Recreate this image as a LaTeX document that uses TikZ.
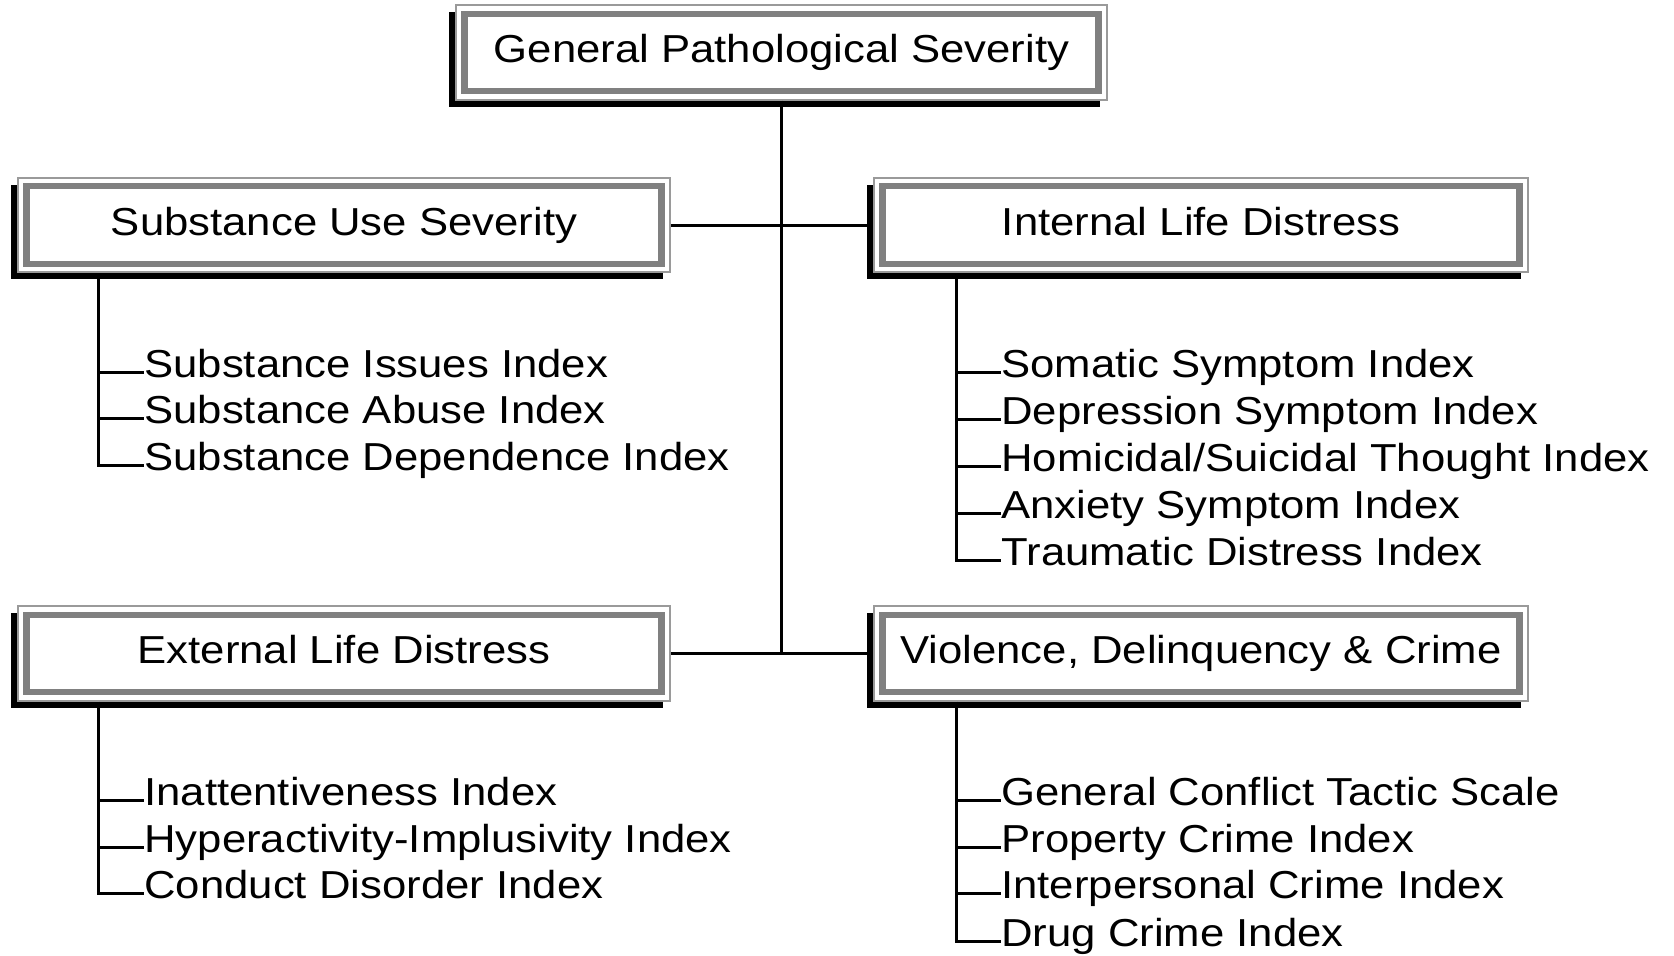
\documentclass[tikz,border=0pt]{standalone}
\usepackage{fontspec}
\setmainfont{Liberation Sans}[FakeStretch=1.12]
\usetikzlibrary{shadows}
\definecolor{outergray}{HTML}{9A9A9A}
\definecolor{bandgray}{HTML}{808080}
\begin{document}
\begin{tikzpicture}[x=0.5pt,y=-0.5pt,
  catbox/.style={draw=outergray, line width=0.8pt, fill=white, inner sep=0pt,
    minimum width=#1*0.5pt, minimum height=47.25pt,
    text height=12pt, text depth=2pt,
    font=\fontsize{19.5pt}{23pt}\selectfont,
    drop shadow={shadow xshift=-3.5pt, shadow yshift=-3.5pt, fill=black, opacity=1},
    path picture={\draw[line width=3.2pt, bandgray]
      ([shift={(4.25pt,4.25pt)}]path picture bounding box.south west) rectangle
      ([shift={(-4.25pt,-4.25pt)}]path picture bounding box.north east);}},
  item/.style={anchor=west, inner sep=0pt, text height=9pt, text depth=4pt,
    font=\fontsize{19.5pt}{23pt}\selectfont},
  conn/.style={line width=1.5pt, black}]
\useasboundingbox (0,0) rectangle (1674,955);

\node[catbox=651] (top) at (781.5,52.5) {General Pathological Severity};
\node[catbox=652] (sus) at (344,225) {Substance Use Severity};
\node[catbox=654] (ild) at (1201,225) {Internal Life Distress};
\node[catbox=652] (eld) at (344,653.5) {External Life Distress};
\node[catbox=654] (vdc) at (1201,653.5) {Violence, Delinquency \& Crime};

\draw[conn] (sus.east) -- (ild.west);
\draw[conn] (eld.east) -- (vdc.west);
\draw[conn] (top.south) -- (top.south |- eld.east);

% Substance use items
\node[item] (a1) at (144,372) {Substance Issues Index};
\node[item] (a2) at (144,418.5) {Substance Abuse Index};
\node[item] (a3) at (144,465) {Substance Dependence Index};
\path (sus.south west) ++(81,0) coordinate (sl);
\draw[conn] (sl) |- (a3.west);
\draw[conn] (sl |- a1.west) -- (a1.west);
\draw[conn] (sl |- a2.west) -- (a2.west);

% Internal life items
\node[item] (b1) at (1001,372) {Somatic Symptom Index};
\node[item] (b2) at (1001,419) {Depression Symptom Index};
\node[item] (b3) at (1001,466) {Homicidal/Suicidal Thought Index};
\node[item] (b4) at (1001,513) {Anxiety Symptom Index};
\node[item] (b5) at (1001,560) {Traumatic Distress Index};
\path (ild.south west) ++(83,0) coordinate (sr);
\draw[conn] (sr) |- (b5.west);
\draw[conn] (sr |- b1.west) -- (b1.west);
\draw[conn] (sr |- b2.west) -- (b2.west);
\draw[conn] (sr |- b3.west) -- (b3.west);
\draw[conn] (sr |- b4.west) -- (b4.west);

% External life items
\node[item] (c1) at (144,800) {Inattentiveness Index};
\node[item] (c2) at (144,847) {Hyperactivity-Implusivity Index};
\node[item] (c3) at (144,893) {Conduct Disorder Index};
\path (eld.south west) ++(81,0) coordinate (el);
\draw[conn] (el) |- (c3.west);
\draw[conn] (el |- c1.west) -- (c1.west);
\draw[conn] (el |- c2.west) -- (c2.west);

% Violence items
\node[item] (d1) at (1001,800) {General Conflict Tactic Scale};
\node[item] (d2) at (1001,847) {Property Crime Index};
\node[item] (d3) at (1001,893) {Interpersonal Crime Index};
\node[item] (d4) at (1001,941) {Drug Crime Index};
\path (vdc.south west) ++(83,0) coordinate (vr);
\draw[conn] (vr) |- (d4.west);
\draw[conn] (vr |- d1.west) -- (d1.west);
\draw[conn] (vr |- d2.west) -- (d2.west);
\draw[conn] (vr |- d3.west) -- (d3.west);
\end{tikzpicture}
\end{document}
